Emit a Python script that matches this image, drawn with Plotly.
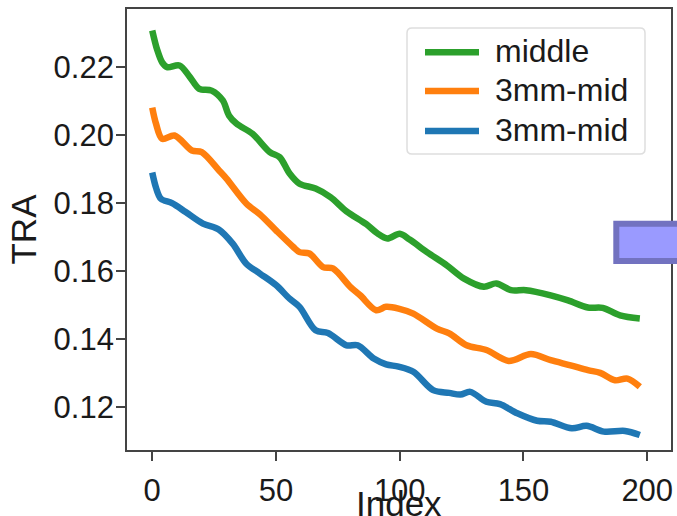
import plotly.graph_objects as go

# ---- data ----
middle_idx = [0, 2, 4, 6, 11, 15, 19, 24, 28.5, 31, 34, 40.5, 47.5, 51.5, 55.5, 59.5, 66, 72, 78.5, 86.5,
              91, 95, 100, 104, 111, 119, 126, 134, 139, 145, 151, 161, 168, 176, 182, 189, 197]
middle_val = [0.2307, 0.2250, 0.2213, 0.2199, 0.2204, 0.2172, 0.2135, 0.2130, 0.2101, 0.2057, 0.2033, 0.2003,
              0.1949, 0.1934, 0.1886, 0.1856, 0.1842, 0.1817, 0.1775, 0.1737, 0.1710, 0.1695, 0.1709, 0.1692,
              0.1655, 0.1616, 0.1577, 0.1553, 0.1563, 0.1543, 0.1543, 0.1528, 0.1513, 0.1492, 0.1491, 0.1469, 0.1460]

mid3_idx = [0, 1.5, 4, 9, 16, 20, 27, 30, 38, 43.5, 50, 57, 59.5, 63.5, 69, 73, 80, 84, 90.5, 94.5, 99.5,
            105.5, 115, 120, 127, 135, 144, 153, 161, 169, 176, 181, 187, 192, 197]
mid3_val = [0.2080, 0.2033, 0.1988, 0.1998, 0.1954, 0.1949, 0.1895, 0.1871, 0.1798, 0.1766, 0.1719, 0.1670,
            0.1655, 0.1651, 0.1611, 0.1607, 0.1553, 0.1528, 0.1484, 0.1494, 0.1489, 0.1474, 0.1430, 0.1416,
            0.1381, 0.1367, 0.1335, 0.1355, 0.1337, 0.1322, 0.1308, 0.1300, 0.1278, 0.1283, 0.1259]

mid3b_idx = [0, 1.5, 3.5, 8, 13.5, 20.5, 27, 32.5, 38, 43.5, 50, 55.5, 59.5, 66, 71, 78.5, 83, 89.5, 94.5,
             99.5, 105.5, 113.5, 120, 124.5, 128.5, 135, 140.5, 147.5, 155.5, 161, 169.5, 175.5, 182.5, 191, 197]
mid3b_val = [0.1889, 0.1845, 0.1812, 0.1799, 0.1773, 0.1739, 0.1721, 0.1680, 0.1621, 0.1592, 0.1558, 0.1518,
             0.1494, 0.1425, 0.1417, 0.1381, 0.1381, 0.1342, 0.1325, 0.1318, 0.1303, 0.1249, 0.1241, 0.1236,
             0.1244, 0.1215, 0.1208, 0.1181, 0.1159, 0.1156, 0.1137, 0.1144, 0.1127, 0.1129, 0.1117]

series_names = ["middle", "3mm-mid", "3mm-mid"]
series_colors = ["#2ca02c", "#ff7f0e", "#1f77b4"]

x_ticks = [0, 50, 100, 150, 200]
x_tick_text = ["0", "50", "100", "150", "200"]
y_ticks = [0.12, 0.14, 0.16, 0.18, 0.20, 0.22]
y_tick_text = ["0.12", "0.14", "0.16", "0.18", "0.20", "0.22"]
x_title = "Index"
y_title = "TRA"

FONT = "Liberation Sans, Arial, sans-serif"
W, H = 677, 516
ML, MR, MT, MB = 127, 6, 9, 66
PW, PH = W - ML - MR, H - MT - MB


def px_x(x):  # pixel -> paper
    return (x - ML) / PW


def px_y(y):
    return (H - MB - y) / PH


fig = go.Figure()
for xs, ys, name, col in zip([middle_idx, mid3_idx, mid3b_idx],
                             [middle_val, mid3_val, mid3b_val],
                             series_names, series_colors):
    fig.add_trace(go.Scatter(x=xs, y=ys, mode="lines", name=name, showlegend=False,
                             line=dict(color=col, width=6.5, shape="spline", smoothing=0.9)))

axis_common = dict(showline=True, linecolor="#444444", linewidth=1.8, mirror=True,
                   ticks="outside", ticklen=9, tickwidth=1.8, tickcolor="#444444",
                   showgrid=False, zeroline=False,
                   tickfont=dict(family=FONT, size=31, color="#1a1a1a"))

fig.update_xaxes(range=[-10.2, 209.6], tickvals=x_ticks, ticktext=x_tick_text, ticklabelstandoff=3,
                 ticklabeloverflow="allow", **axis_common)
fig.update_yaxes(range=[0.1073, 0.2370], tickvals=y_ticks, ticktext=y_tick_text, ticklabelstandoff=-4,
                 title=dict(text=y_title, font=dict(family=FONT, size=35, color="#1a1a1a"), standoff=6),
                 **axis_common)

# ---- legend box (matplotlib-style, rounded) ----
lx0, lx1, ly0, ly1, r = 407, 645, 28, 154, 5
rx, ry = r / PW, r / PH
X0, X1, Y0, Y1 = px_x(lx0), px_x(lx1), px_y(ly1), px_y(ly0)
legend_path = (f"M {X0 + rx},{Y0} L {X1 - rx},{Y0} Q {X1},{Y0} {X1},{Y0 + ry} "
               f"L {X1},{Y1 - ry} Q {X1},{Y1} {X1 - rx},{Y1} L {X0 + rx},{Y1} "
               f"Q {X0},{Y1} {X0},{Y1 - ry} L {X0},{Y0 + ry} Q {X0},{Y0} {X0 + rx},{Y0} Z")

shapes = [dict(type="path", xref="paper", yref="paper", path=legend_path,
               fillcolor="white", line=dict(color="#dedede", width=1.5), layer="above")]
annotations = []
row_y = [52.3, 91, 131]
for ry_px, name, col in zip(row_y, series_names, series_colors):
    shapes.append(dict(type="line", xref="paper", yref="paper",
                       x0=px_x(425), x1=px_x(479), y0=px_y(ry_px), y1=px_y(ry_px),
                       line=dict(color=col, width=6.5), layer="above"))
    annotations.append(dict(text=name, xref="paper", yref="paper", x=px_x(493), y=px_y(ry_px - 1),
                            xanchor="left", yanchor="middle", showarrow=False,
                            font=dict(family=FONT, size=32, color="#1a1a1a")))

# x-axis title placed just under the tick labels
annotations.append(dict(text=x_title, xref="paper", yref="paper", x=0.5, y=px_y(482),
                        xanchor="center", yanchor="top", showarrow=False,
                        font=dict(family=FONT, size=35, color="#1a1a1a")))

# purple box at the right edge
shapes.append(dict(type="rect", xref="paper", yref="paper",
                   x0=px_x(616.3), x1=px_x(685), y0=px_y(261), y1=px_y(223.7),
                   fillcolor="#9a9aff", line=dict(color="#7272c0", width=6), layer="above"))

fig.update_layout(
    width=W, height=H,
    margin=dict(l=ML, r=MR, t=MT, b=MB, autoexpand=False),
    paper_bgcolor="white", plot_bgcolor="white",
    showlegend=False,
    shapes=shapes, annotations=annotations,
)

fig.write_html("out.html")
